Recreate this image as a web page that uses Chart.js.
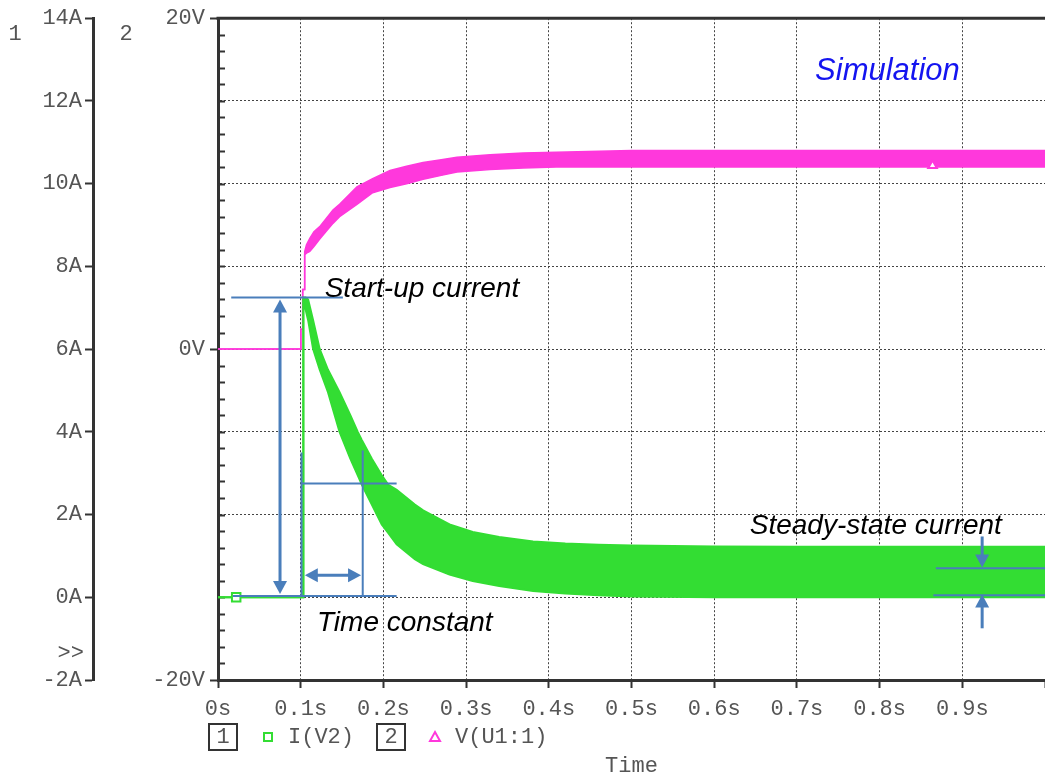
<!DOCTYPE html>
<html>
<head>
<meta charset="utf-8">
<script src="https://cdn.jsdelivr.net/npm/chart.js@4.4.1/dist/chart.umd.min.js"></script>
<style>
  html, body { margin: 0; padding: 0; background: #fff; }
  #wrap { width: 1045px; height: 775px; }
</style>
</head>
<body>
<div id="wrap"><canvas id="chart" width="1045" height="775"></canvas></div>
<script>
// I(V2): upper / lower edge of the ripple band, time in s, current in A
const timeI = [0, 0.022, 0.103, 0.1032, 0.106, 0.109, 0.115, 0.123, 0.133, 0.147, 0.160, 0.169, 0.174, 0.186, 0.198, 0.206,
  0.216, 0.238, 0.248, 0.280, 0.308, 0.340, 0.381, 0.420, 0.460, 0.500, 0.600, 0.700, 0.800, 0.900, 1.000];
const currentUpper = [0, 0, 0, 7.25, 7.25, 7.2, 6.7, 6.0, 5.5, 4.96, 4.4, 4.0, 3.8, 3.35, 2.95, 2.72,
  2.6, 2.24, 2.1, 1.76, 1.58, 1.46, 1.35, 1.3, 1.27, 1.25, 1.23, 1.22, 1.22, 1.22, 1.22];
const currentLower = [0, 0, 0, 7.1, 6.95, 6.7, 6.0, 5.5, 4.96, 4.0, 3.35, 2.95, 2.72, 2.24, 1.76, 1.55,
  1.28, 0.92, 0.8, 0.55, 0.39, 0.27, 0.15, 0.09, 0.05, 0.02, 0, 0, 0, 0, 0];

// V(U1:1): upper / lower edge, time in s, voltage in V
const timeV = [0, 0.1, 0.1002, 0.1022, 0.1024, 0.1046, 0.1048, 0.107, 0.111, 0.116, 0.123, 0.139, 0.147, 0.168, 0.187,
  0.208, 0.228, 0.248, 0.270, 0.289, 0.329, 0.369, 0.409, 0.5, 0.6, 0.7, 0.8, 0.9, 1.0];
const voltageUpper = [0, 0, 1.2, 1.2, 3.6, 3.6, 5.9, 6.3, 6.7, 7.1, 7.4, 8.4, 8.75, 9.8, 10.3,
  10.8, 11.05, 11.28, 11.45, 11.6, 11.75, 11.85, 11.9, 12.0, 12.0, 12.0, 12.0, 12.0, 12.0];
const voltageLower = [0, 0, 1.2, 1.2, 3.6, 3.6, 5.7, 5.8, 5.9, 6.2, 6.65, 7.6, 8.0, 8.75, 9.45,
  9.77, 10.0, 10.26, 10.5, 10.7, 10.86, 10.95, 11.0, 11.0, 11.0, 11.0, 11.0, 11.0, 11.0];

// trace markers (PSpice symbols)
const currentMarker = [0.022, 0];
const voltageMarker = [0.864, 11.1];

// axis tick labels
const voltageLabels = { '-20': '-20V', '0': '0V', '20': '20V' };
const legendItems = ['I(V2)', 'V(U1:1)'];

// annotations in data units (s, A)
const noteLines = [
  [0.016, 7.25, 0.151, 7.25],
  [0.018, 0.03, 0.216, 0.03],
  [0.101, 0.03, 0.101, 3.5],
  [0.175, 0.03, 0.175, 3.55],
  [0.101, 2.75, 0.216, 2.75],
  [0.868, 0.70, 1.0, 0.70],
  [0.865, 0.05, 1.0, 0.05]
];
const noteArrows = [
  [0.075, 0.08, 0.075, 7.2, true],
  [0.105, 0.53, 0.173, 0.53, true],
  [0.924, 1.47, 0.924, 0.72, false],
  [0.924, -0.75, 0.924, 0.07, false]
];
const noteTexts = [
  ['Start-up current', 0.129, 7.27],
  ['Time constant', 0.1197, -0.82],
  ['Steady-state current', 0.643, 1.52]
];
const simLabel = ['Simulation', 0.722, 16.27]; // s, V

const GREEN = '#33dd33';
const MAGENTA = '#ff38dc';
const BLUE = '#4a7ebb';
const INK = '#333';
const TXT = '#555';
const MONO = "'Liberation Mono', 'DejaVu Sans Mono', monospace";

const pts = (xs, ys) => xs.map((x, i) => ({ x, y: ys[i] }));

function arrowHead(ctx, x, y, ang) {
  ctx.save();
  ctx.translate(x, y);
  ctx.rotate(ang);
  ctx.beginPath();
  ctx.moveTo(0, 0);
  ctx.lineTo(-13, -7);
  ctx.lineTo(-13, 7);
  ctx.closePath();
  ctx.fill();
  ctx.restore();
}

const frame = {
  id: 'frame',
  beforeDatasetsDraw(chart) {
    const { ctx, chartArea: area, scales: { yV } } = chart;
    ctx.save();
    ctx.strokeStyle = INK;
    ctx.lineWidth = 3;
    ctx.beginPath();
    ctx.moveTo(area.left - 1.5, area.top);
    ctx.lineTo(area.right, area.top);
    ctx.stroke();
    // small inner ticks on axis 2
    ctx.lineWidth = 2;
    yV.ticks.forEach(tk => {
      if (tk.value % 20 === 0) return;
      const y = Math.round(yV.getPixelForValue(tk.value)) + 0.5;
      ctx.beginPath();
      ctx.moveTo(area.left, y);
      ctx.lineTo(area.left + 7, y);
      ctx.stroke();
    });
    ctx.restore();
  },
  afterDatasetsDraw(chart) {
    const { ctx, scales: { x, yA, yV } } = chart;
    ctx.save();
    ctx.strokeStyle = BLUE;
    ctx.fillStyle = BLUE;
    ctx.lineWidth = 2;
    noteLines.forEach(([t0, a0, t1, a1]) => {
      ctx.beginPath();
      ctx.moveTo(x.getPixelForValue(t0), yA.getPixelForValue(a0));
      ctx.lineTo(x.getPixelForValue(t1), yA.getPixelForValue(a1));
      ctx.stroke();
    });
    ctx.lineWidth = 3;
    noteArrows.forEach(([t0, a0, t1, a1, both]) => {
      const x0 = x.getPixelForValue(t0), y0 = yA.getPixelForValue(a0);
      const x1 = x.getPixelForValue(t1), y1 = yA.getPixelForValue(a1);
      const ang = Math.atan2(y1 - y0, x1 - x0);
      const dx = Math.cos(ang) * 10, dy = Math.sin(ang) * 10;
      ctx.beginPath();
      ctx.moveTo(both ? x0 + dx : x0, both ? y0 + dy : y0);
      ctx.lineTo(x1 - dx, y1 - dy);
      ctx.stroke();
      arrowHead(ctx, x1, y1, ang);
      if (both) arrowHead(ctx, x0, y0, ang + Math.PI);
    });
    ctx.fillStyle = '#000';
    ctx.font = "italic 28px 'Liberation Sans', Arial, sans-serif";
    ctx.textBaseline = 'alphabetic';
    ctx.textAlign = 'left';
    noteTexts.forEach(([txt, t, a]) => ctx.fillText(txt, x.getPixelForValue(t), yA.getPixelForValue(a)));
    ctx.fillStyle = '#1414f0';
    ctx.font = "italic 31px 'Liberation Sans', Arial, sans-serif";
    ctx.fillText(simLabel[0], x.getPixelForValue(simLabel[1]), yV.getPixelForValue(simLabel[2]));
    ctx.restore();
  },
  afterDraw(chart) {
    const { ctx, chartArea: area, scales: { yA } } = chart;
    ctx.save();
    ctx.font = '22px ' + MONO;
    ctx.fillStyle = TXT;
    ctx.textBaseline = 'middle';
    ctx.textAlign = 'center';
    ctx.fillText('1', 15, area.top + 16);
    ctx.fillText('2', 126, area.top + 16);
    ctx.textAlign = 'right';
    ctx.fillText('>>', yA.left + 84, yA.getPixelForValue(-1.35));
    // legend row
    const ly = area.bottom + 57;
    const l = area.left;
    ctx.strokeStyle = INK;
    ctx.lineWidth = 2;
    ctx.strokeRect(l - 9, ly - 13, 28, 26);
    ctx.strokeRect(l + 159, ly - 13, 28, 26);
    ctx.textAlign = 'center';
    ctx.fillText('1', l + 5, ly);
    ctx.fillText('2', l + 173, ly);
    ctx.strokeStyle = GREEN;
    ctx.strokeRect(l + 46, ly - 4, 8, 8);
    ctx.strokeStyle = MAGENTA;
    ctx.beginPath();
    ctx.moveTo(l + 217, ly - 5);
    ctx.lineTo(l + 222, ly + 4);
    ctx.lineTo(l + 212, ly + 4);
    ctx.closePath();
    ctx.stroke();
    ctx.textAlign = 'left';
    ctx.fillText(legendItems[0], l + 70, ly);
    ctx.fillText(legendItems[1], l + 237, ly);
    ctx.restore();
  }
};

new Chart(document.getElementById('chart'), {
  type: 'line',
  data: {
    datasets: [
      { data: pts(timeV, voltageUpper), yAxisID: 'yV', borderColor: MAGENTA, borderWidth: 1.5, pointRadius: 0, fill: false, order: 4 },
      { data: pts(timeV, voltageLower), yAxisID: 'yV', borderColor: MAGENTA, backgroundColor: MAGENTA, borderWidth: 1.5, pointRadius: 0, fill: '-1', order: 4 },
      { data: pts(timeI, currentUpper), yAxisID: 'yA', borderColor: GREEN, borderWidth: 2, pointRadius: 0, fill: false, order: 2 },
      { data: pts(timeI, currentLower), yAxisID: 'yA', borderColor: GREEN, backgroundColor: GREEN, borderWidth: 2, pointRadius: 0, fill: '-1', order: 2 },
      { data: [{ x: currentMarker[0], y: currentMarker[1] }], yAxisID: 'yA', showLine: false, pointStyle: 'rect',
        pointRadius: 6, borderColor: GREEN, backgroundColor: '#fff', borderWidth: 2, order: 1 },
      { data: [{ x: voltageMarker[0], y: voltageMarker[1] }], yAxisID: 'yV', showLine: false, pointStyle: 'triangle',
        pointRadius: 5, borderColor: MAGENTA, backgroundColor: '#fff', borderWidth: 2, order: 1 }
    ]
  },
  options: {
    responsive: false,
    maintainAspectRatio: false,
    animation: false,
    devicePixelRatio: 1,
    layout: { autoPadding: false, padding: { top: 15, right: 0, left: 0, bottom: 0 } },
    plugins: { legend: { display: false }, tooltip: { enabled: false } },
    elements: { line: { tension: 0 } },
    scales: {
      x: {
        type: 'linear', min: 0, max: 1,
        afterFit: s => { s.height = 95; s.paddingLeft = 0; s.paddingRight = 0; },
        border: { display: true, color: INK, width: 3, dash: [2, 2] },
        grid: { color: '#444', lineWidth: 1, tickLength: 8, tickWidth: 2, tickColor: INK },
        ticks: {
          stepSize: 0.1, autoSkip: false, maxRotation: 0, padding: 8,
          color: TXT, font: { family: MONO, size: 22 },
          callback: v => (v >= 1 ? '' : Math.round(v * 10) / 10 + 's')
        },
        title: { display: true, text: 'Time', color: TXT, font: { family: MONO, size: 22, lineHeight: 1 }, padding: { top: 0, bottom: -2 } }
      },
      yA: {
        type: 'linear', position: 'left', weight: 1, min: -2, max: 14,
        afterFit: s => { s.width = 93; },
        border: { display: true, color: INK, width: 3 },
        grid: { drawOnChartArea: false, tickLength: 8, tickWidth: 2, tickColor: INK },
        ticks: { stepSize: 2, autoSkip: false, padding: 3, color: TXT, font: { family: MONO, size: 22 }, callback: v => v + 'A' }
      },
      yV: {
        type: 'linear', position: 'left', weight: 0, min: -20, max: 20,
        afterFit: s => { s.width = 125; },
        border: { display: true, color: INK, width: 3, dash: [2, 2] },
        grid: {
          lineWidth: 1, tickLength: 8, tickWidth: 2,
          color: c => (c.tick && c.tick.value % 5 === 0 ? '#444' : 'rgba(0,0,0,0)'),
          tickColor: c => (c.tick && c.tick.value % 20 === 0 ? INK : 'rgba(0,0,0,0)')
        },
        ticks: {
          stepSize: 1, autoSkip: false, padding: 5, color: TXT, font: { family: MONO, size: 22 },
          callback: v => voltageLabels[String(v)] || ''
        }
      }
    }
  },
  plugins: [frame]
});
</script>
</body>
</html>
